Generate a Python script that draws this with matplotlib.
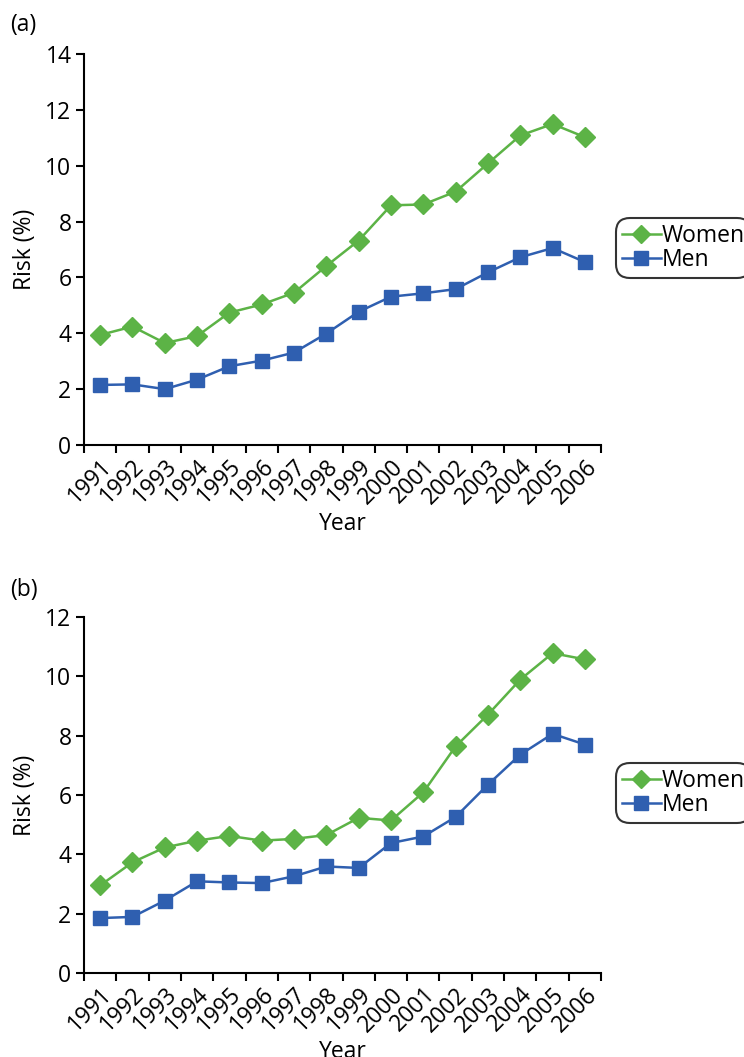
import numpy as np
import matplotlib.pyplot as plt
from matplotlib.lines import Line2D

plt.rcParams['font.family'] = ['Open Sans', 'DejaVu Sans']

# 数据
years = [str(y) for y in range(1991, 2007)]
women_a = [3.94, 4.24, 3.65, 3.90, 4.74, 5.03, 5.45, 6.41, 7.32, 8.58,
           8.61, 9.07, 10.08, 11.08, 11.49, 11.02]
men_a = [2.15, 2.17, 2.00, 2.34, 2.82, 3.02, 3.31, 3.99, 4.77, 5.31,
         5.43, 5.58, 6.18, 6.72, 7.05, 6.55]
women_b = [2.95, 3.73, 4.23, 4.46, 4.62, 4.46, 4.52, 4.65, 5.23, 5.14,
           6.09, 7.64, 8.71, 9.89, 10.78, 10.57]
men_b = [1.85, 1.89, 2.44, 3.09, 3.05, 3.03, 3.26, 3.59, 3.54, 4.38,
         4.60, 5.26, 6.35, 7.36, 8.06, 7.70]

green = "#5cb346"
blue = "#2f5fb0"
fs = 16.5

fig = plt.figure(figsize=(7.44, 10.57), dpi=100)


def draw_panel(rect, women, men, ymax, tag, tag_y, leg_y):
    ax = fig.add_axes(rect)
    x = np.arange(len(years))
    ax.plot(x, women, color=green, marker="D", markersize=10,
            linewidth=1.8, clip_on=False)
    ax.plot(x, men, color=blue, marker="s", markersize=10,
            linewidth=1.8, clip_on=False)
    ax.set_xlim(-0.5, len(years) - 0.5)
    ax.set_ylim(0, ymax)
    ax.set_yticks(np.arange(0, ymax + 1, 2))
    # 刻度在类别边界，标签在类别中间
    ax.set_xticks(np.arange(-0.5, len(years), 1.0))
    ax.set_xticklabels([])
    ax.set_xticks(x, minor=True)
    ax.set_xticklabels(years, minor=True, rotation=45, ha="right",
                       rotation_mode="anchor", fontsize=fs)
    ax.tick_params(axis="x", which="minor", length=0, pad=7)
    ax.tick_params(axis="both", which="major", length=6, width=1.5,
                   labelsize=fs, pad=3)
    for s in ["top", "right"]:
        ax.spines[s].set_visible(False)
    for s in ["left", "bottom"]:
        ax.spines[s].set_linewidth(1.5)
    ax.set_ylabel("Risk (%)", fontsize=fs, labelpad=6)
    ax.set_xlabel("Year", fontsize=fs, labelpad=2)
    fig.text(0.013, tag_y, tag, fontsize=fs, va="center", ha="left")

    handles = [
        Line2D([0], [0], color=green, marker="D", markersize=9.5,
               linewidth=1.8, label="Women"),
        Line2D([0], [0], color=blue, marker="s", markersize=9.5,
               linewidth=1.8, label="Men"),
    ]
    leg = fig.legend(handles=handles, loc="center left",
                     bbox_to_anchor=(0.828, leg_y), fontsize=fs,
                     frameon=True, fancybox=True, edgecolor="black",
                     handlelength=1.7, handletextpad=0.05,
                     borderpad=0.25, labelspacing=0.0,
                     borderaxespad=0)
    leg.get_frame().set_linewidth(1.5)
    leg.get_frame().set_boxstyle("round", pad=0.0, rounding_size=0.6)
    return ax


draw_panel([0.1129, 0.579, 0.695, 0.370], women_a, men_a, 14,
           "(a)", 1 - 25 / 1057, 1 - 248 / 1057)
draw_panel([0.1129, 0.0795, 0.695, 0.3368], women_b, men_b, 12,
           "(b)", 1 - 590 / 1057, 1 - 793 / 1057)

fig.savefig("out.png", dpi=100)
